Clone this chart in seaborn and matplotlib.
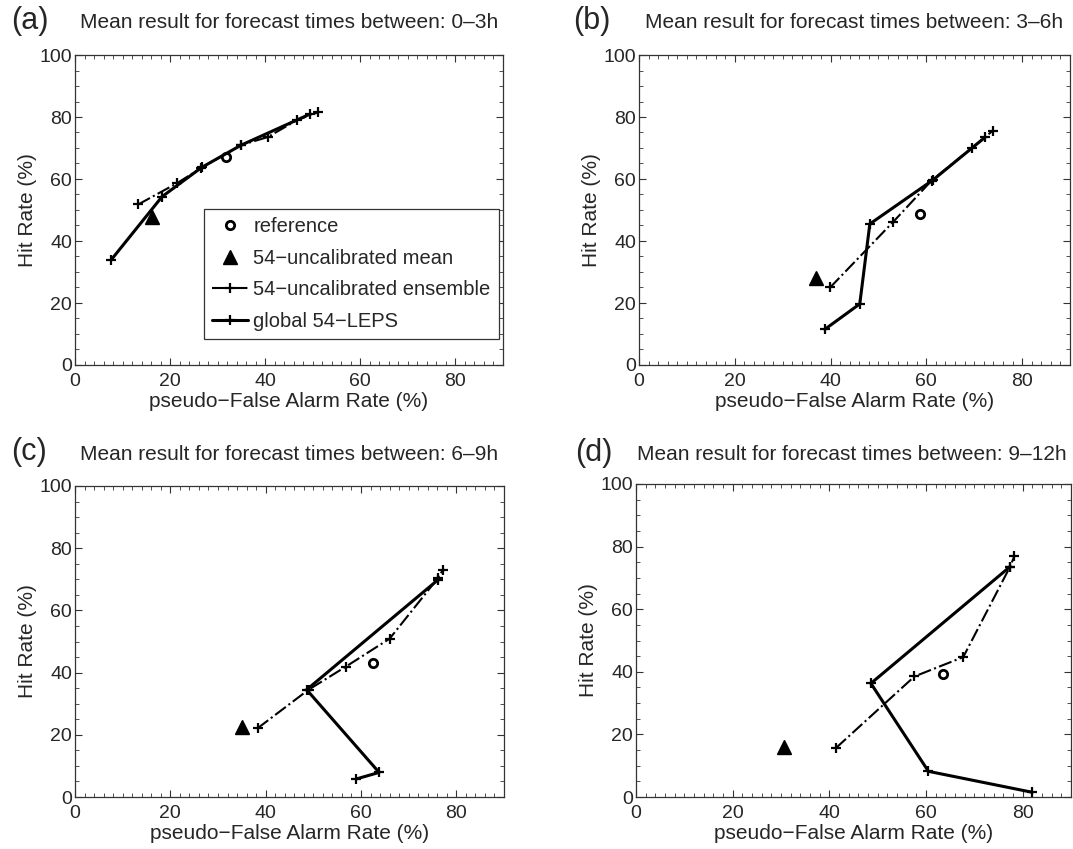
import numpy as np
import pandas as pd
import matplotlib
matplotlib.use("Agg")
import matplotlib.pyplot as plt
from matplotlib.ticker import MultipleLocator
import seaborn as sns

# ---- data ----
panel_tags = ["(a)", "(b)", "(c)", "(d)"]
panel_times = ["0\u20133h", "3\u20136h", "6\u20139h", "9\u201312h"]

# reference (open circle)
ref_far = [31.7, 58.7, 62.6, 63.6]
ref_hit = [67.0, 48.6, 43.2, 39.3]

# 54-uncalibrated mean (filled triangle)
mean_far = [16.2, 37.0, 35.0, 30.6]
mean_hit = [47.8, 28.0, 22.6, 16.0]

# 54-uncalibrated ensemble (dash-dot)
ens_far_a = [13.3, 21.4, 26.8, 35.0, 40.5, 46.7, 51.1]
ens_hit_a = [51.8, 58.6, 63.8, 71.0, 73.5, 79.0, 81.5]
ens_far_b = [39.9, 53.1, 61.1, 69.5, 73.9]
ens_hit_b = [25.0, 46.2, 59.5, 70.0, 75.6]
ens_far_c = [38.3, 49.0, 56.8, 66.0, 76.2, 77.2]
ens_hit_c = [22.1, 34.5, 41.9, 50.9, 70.5, 73.1]
ens_far_d = [41.4, 57.6, 67.7, 77.4, 78.3]
ens_hit_d = [15.7, 38.5, 44.7, 73.6, 77.0]

# global 54-LEPS (solid)
leps_far_a = [7.6, 18.3, 26.6, 34.9, 49.5]
leps_hit_a = [33.9, 54.3, 63.7, 70.9, 81.0]
leps_far_b = [38.8, 46.1, 48.2, 61.4, 72.3]
leps_hit_b = [11.5, 19.7, 45.5, 59.7, 73.5]
leps_far_c = [59.0, 63.8, 48.6, 76.2]
leps_hit_c = [5.8, 7.9, 34.5, 69.9]
leps_far_d = [82.0, 60.5, 48.6, 77.4]
leps_hit_d = [1.5, 8.2, 36.3, 73.6]

ens = [(ens_far_a, ens_hit_a), (ens_far_b, ens_hit_b),
       (ens_far_c, ens_hit_c), (ens_far_d, ens_hit_d)]
leps = [(leps_far_a, leps_hit_a), (leps_far_b, leps_hit_b),
        (leps_far_c, leps_hit_c), (leps_far_d, leps_hit_d)]

sns.set_style("ticks")
plt.rcParams['font.family'] = ['Liberation Sans', 'DejaVu Sans']

fig = plt.figure(figsize=(10.73, 8.49), dpi=100)
W, H = 1073, 849
# axes boxes in pixels: left, top, right, bottom
boxes = [(75, 55, 503, 365), (639, 55, 1070, 365),
         (75, 486, 504, 797), (636, 484, 1071, 797)]
tag_pos = [(11, 21), (573, 21), (11, 452), (575, 453)]
title_pos = [(80, 23), (645, 23), (80, 455), (637, 455)]

for i in range(4):
    l, t, r, b = boxes[i]
    ax = fig.add_axes([l / W, 1 - b / H, (r - l) / W, (b - t) / H])

    df_leps = pd.DataFrame({"far": leps[i][0], "hit": leps[i][1]})
    df_ens = pd.DataFrame({"far": ens[i][0], "hit": ens[i][1]})

    sns.lineplot(data=df_ens, x="far", y="hit", sort=False, estimator=None,
                 ax=ax, color="black", linestyle="-.", linewidth=1.5,
                 marker="+", markersize=7, markeredgewidth=1.6,
                 markeredgecolor="black",
                 label="54\u2212uncalibrated ensemble")
    sns.lineplot(data=df_leps, x="far", y="hit", sort=False, estimator=None,
                 ax=ax, color="black", linestyle="-", linewidth=2.2,
                 marker="+", markersize=7, markeredgewidth=1.6,
                 markeredgecolor="black",
                 label="global 54\u2212LEPS")
    ax.plot([ref_far[i]], [ref_hit[i]], linestyle="none", marker="o",
            markersize=6, markerfacecolor="none", markeredgecolor="black",
            markeredgewidth=2, label="reference")
    ax.plot([mean_far[i]], [mean_hit[i]], linestyle="none", marker="^",
            markersize=10, color="black", label="54\u2212uncalibrated mean")

    ax.set_xlim(0, 90)
    ax.set_ylim(0, 100)
    ax.set_xticks([0, 20, 40, 60, 80])
    ax.set_yticks([0, 20, 40, 60, 80, 100])
    ax.xaxis.set_minor_locator(MultipleLocator(2))
    ax.yaxis.set_minor_locator(MultipleLocator(5))
    ax.tick_params(which="both", direction="in", top=True, right=True,
                   color="#333333")
    ax.tick_params(which="major", length=5, width=0.8, labelsize=14)
    ax.tick_params(axis="x", which="major", pad=6)
    ax.tick_params(axis="y", which="major", pad=2)
    ax.tick_params(which="minor", length=3, width=0.6)
    for s in ax.spines.values():
        s.set_linewidth(0.9)
        s.set_color("#333333")
    ax.set_xlabel("pseudo\u2212False Alarm Rate (%)", fontsize=15, labelpad=1)
    ax.set_ylabel("Hit Rate (%)", fontsize=15, labelpad=2)

    if i == 0:
        h, lab = ax.get_legend_handles_labels()
        order = [2, 3, 0, 1]
        leg = ax.legend([h[k] for k in order], [lab[k] for k in order],
                        loc="lower right", bbox_to_anchor=(0.99, 0.085),
                        fontsize=14.5, frameon=True, fancybox=False,
                        edgecolor="#333333", framealpha=1,
                        handlelength=1.8, handletextpad=0.25,
                        borderpad=0.4, labelspacing=0.62,
                        borderaxespad=0.0)
        leg.get_frame().set_linewidth(0.9)
    else:
        ax.get_legend().remove()

    fig.text(tag_pos[i][0] / W, 1 - tag_pos[i][1] / H, panel_tags[i],
             fontsize=22, va="center", ha="left")
    fig.text(title_pos[i][0] / W, 1 - title_pos[i][1] / H,
             "Mean result for forecast times between: " + panel_times[i],
             fontsize=15, va="center", ha="left")

fig.savefig("out.png", dpi=100)
